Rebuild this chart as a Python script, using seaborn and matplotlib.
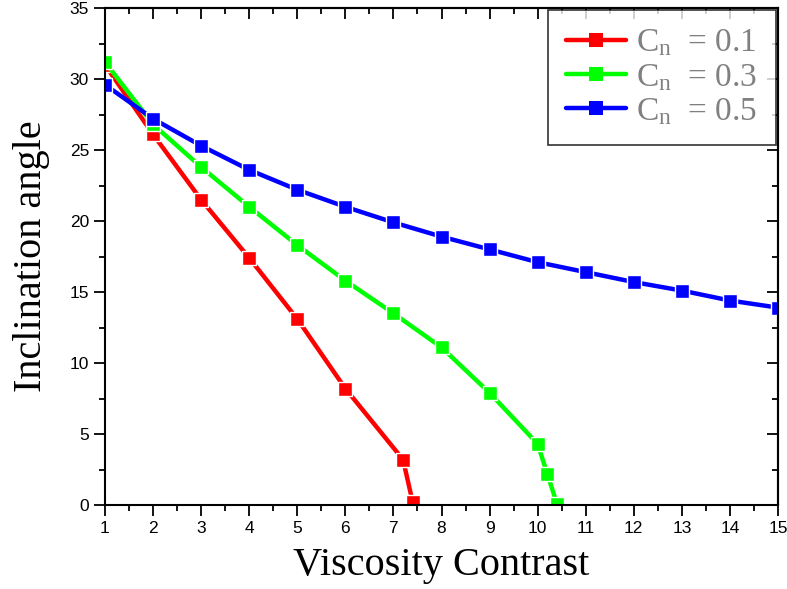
import numpy as np
import pandas as pd
import seaborn as sns
import matplotlib
matplotlib.use('Agg')
import matplotlib.pyplot as plt
from matplotlib.ticker import MultipleLocator

# values
x_01 = [1, 2, 3, 4, 5, 6, 7.2, 7.4]
y_01 = [31.0, 26.1, 21.5, 17.4, 13.1, 8.2, 3.2, 0.2]
x_03 = [1, 2, 3, 4, 5, 6, 7, 8, 9, 10, 10.2, 10.4]
y_03 = [31.2, 26.8, 23.8, 21.0, 18.3, 15.8, 13.5, 11.1, 7.9, 4.3, 2.2, 0.1]
x_05 = [1, 2, 3, 4, 5, 6, 7, 8, 9, 10, 11, 12, 13, 14, 15]
y_05 = [29.6, 27.2, 25.3, 23.6, 22.2, 21.0, 19.9, 18.9, 18.0, 17.1, 16.4, 15.7, 15.1, 14.4, 13.9]
labels = [r'C$_\mathrm{n}$  = 0.1', r'C$_\mathrm{n}$  = 0.3', r'C$_\mathrm{n}$  = 0.5']
colors = ['#ff0000', '#00ff00', '#0000ff']

frames = []
for xs, ys, lab in zip([x_01, x_03, x_05], [y_01, y_03, y_05], labels):
    frames.append(pd.DataFrame({'x': xs, 'y': ys, 'label': lab}))
df = pd.concat(frames, ignore_index=True)

sns.set_style('ticks')
plt.rcParams['font.family'] = ['Liberation Sans', 'DejaVu Sans']
plt.rcParams['mathtext.fontset'] = 'custom'
plt.rcParams['mathtext.rm'] = 'Liberation Serif'
plt.rcParams['mathtext.it'] = 'Liberation Serif:italic'

fig = plt.figure(figsize=(7.87, 5.89), dpi=100)
ax = fig.add_axes([0.1334, 0.1426, 0.8552, 0.8438])

sns.lineplot(data=df, x='x', y='y', hue='label', palette=dict(zip(labels, colors)),
             sort=False, estimator=None, marker='s', markersize=10.5, markeredgecolor='white',
             markeredgewidth=1.0, linewidth=3.2, ax=ax)

ax.set_xlim(1, 15)
ax.set_ylim(0, 35)
ax.xaxis.set_major_locator(MultipleLocator(1))
ax.xaxis.set_minor_locator(MultipleLocator(0.5))
ax.yaxis.set_major_locator(MultipleLocator(5))
ax.yaxis.set_minor_locator(MultipleLocator(2.5))
ax.tick_params(which='both', direction='out', top=False, right=False, width=1.3, colors='black')
ax.tick_params(which='major', length=8, labelsize=12.5)
ax.tick_params(which='minor', length=4)
# Origin-style mirrored inward ticks on top and right
sec_x = ax.secondary_xaxis('top')
sec_x.xaxis.set_major_locator(MultipleLocator(1))
sec_x.xaxis.set_minor_locator(MultipleLocator(0.5))
sec_x.tick_params(which='both', direction='in', labeltop=False, width=1.3, colors='black')
sec_x.tick_params(which='major', length=8)
sec_x.tick_params(which='minor', length=4)
sec_y = ax.secondary_yaxis('right')
sec_y.yaxis.set_major_locator(MultipleLocator(5))
sec_y.yaxis.set_minor_locator(MultipleLocator(2.5))
sec_y.tick_params(which='both', direction='in', labelright=False, width=1.3, colors='black')
sec_y.tick_params(which='major', length=8)
sec_y.tick_params(which='minor', length=4)
for s in ax.spines.values():
    s.set_linewidth(1.5)
    s.set_color('black')
sec_x.spines['top'].set_linewidth(1.5)
sec_y.spines['right'].set_linewidth(1.5)

ax.set_xlabel('Viscosity Contrast', fontsize=29, family='Liberation Serif', labelpad=8, color='black')
ax.set_ylabel('Inclination angle', fontsize=29, family='Liberation Serif', labelpad=14, color='black')

leg = ax.legend(loc='upper right', bbox_to_anchor=(0.997, 0.997), fontsize=24, frameon=True,
                fancybox=False, shadow=False, handlelength=1.8, labelspacing=0.1,
                borderpad=0.55, handletextpad=0.3, borderaxespad=0.0)
leg.get_frame().set_edgecolor('black')
leg.get_frame().set_linewidth(1.2)
for t in leg.get_texts():
    t.set_color('#808080')
    t.set_family('Liberation Serif')
for h in leg.legend_handles:
    h.set_markeredgewidth(0)

fig.savefig('out.png', dpi=100)
